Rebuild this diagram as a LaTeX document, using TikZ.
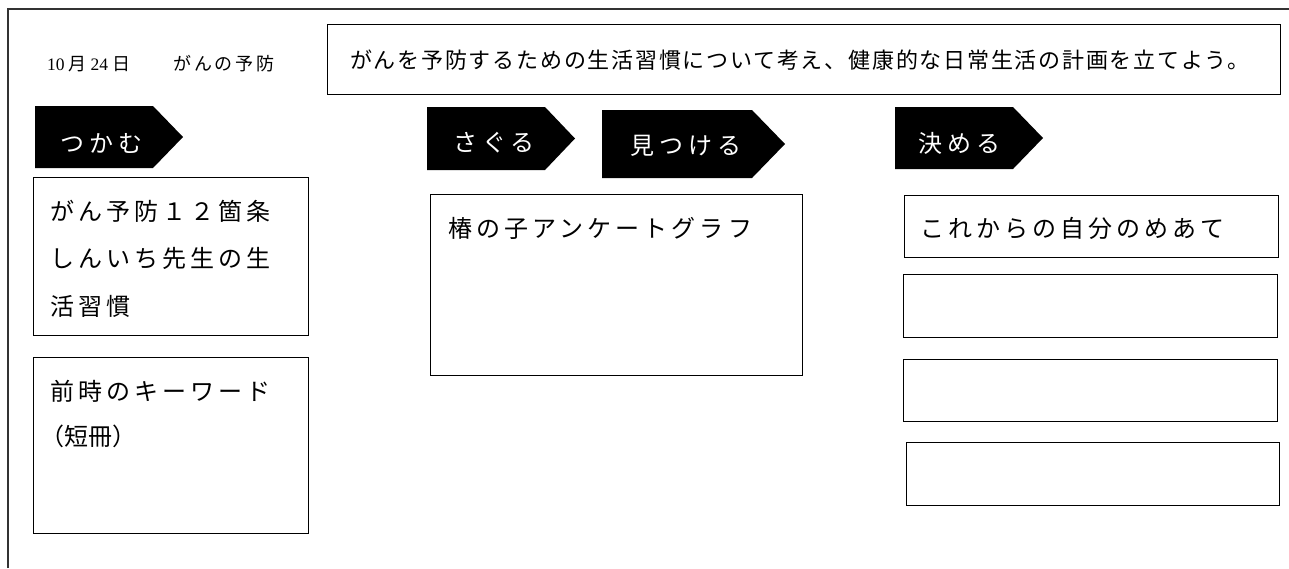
\documentclass[tikz,border=0pt]{standalone}
\usepackage{fontspec}
\setmainfont{Noto Sans CJK JP}
\newfontfamily\jp{Noto Sans CJK JP}
\newfontfamily\lat{Liberation Serif}
\begin{document}
\begin{tikzpicture}[x=1pt,y=-1pt,
  box/.style={draw=black,line width=1.1pt,fill=none},
  frameline/.style={draw=black!80,line width=1.2pt},
  tag/.style={fill=black},
  tagtext/.style={text=white,inner sep=0pt,anchor=west,font=\fontsize{24pt}{28pt}\selectfont\addfontfeature{LetterSpace=21}},
  bodytext/.style={inner sep=0pt,anchor=west,font=\fontsize{24pt}{28pt}\selectfont\addfontfeature{LetterSpace=17}},
]
\useasboundingbox (0,0) rectangle (1289,568);
% frame
\draw[frameline] (8,568) -- (8,9) -- (1289,9);

% date title
\node[inner sep=0pt,anchor=west,font=\fontsize{18pt}{21pt}\selectfont] (date) at (47,64)
  {{\lat\fontsize{17.5pt}{21pt}\selectfont 10}\hspace{4pt}月\hspace{4pt}{\lat\fontsize{17.5pt}{21pt}\selectfont 24}\hspace{4pt}日\hspace{43pt}{\addfontfeature{LetterSpace=16}がんの予防}};

% goal box
\node[box,anchor=north west,minimum width=953pt,minimum height=70pt,inner sep=0pt] (goal) at (327,24) {};
\node[inner sep=0pt,anchor=west,font=\fontsize{22pt}{26pt}\selectfont\addfontfeature{LetterSpace=8}] (goaltext) at (350,60)
  {がんを予防するための生活習慣について考え、健康的な日常生活の計画を立てよう。};

% tags
\fill[tag] (35,106) -- (153,106) -- (183,137) -- (153,168) -- (35,168) -- cycle;
\node[tagtext] (tsukamu) at (60,143) {つかむ};
\fill[tag] (427,107) -- (545,107) -- (575,138.5) -- (545,170) -- (427,170) -- cycle;
\node[tagtext] (saguru) at (453,143) {さぐる};
\fill[tag] (602,110) -- (752,110) -- (785,144) -- (752,178) -- (602,178) -- cycle;
\node[tagtext] (mitsukeru) at (630,146) {見つける};
\fill[tag] (895,107) -- (1013,107) -- (1043,138) -- (1013,169) -- (895,169) -- cycle;
\node[tagtext] (kimeru) at (918,143) {決める};

% left boxes
\node[box,anchor=north west,minimum width=275pt,minimum height=158pt,inner sep=0pt] (lb1) at (33,177) {};
\node[bodytext] (lb1a) at (50,211) {がん予防１２箇条};
\node[bodytext] (lb1b) at (50,258) {しんいち先生の生};
\node[bodytext] (lb1c) at (50,306) {活習慣};

\node[box,anchor=north west,minimum width=275pt,minimum height=176pt,inner sep=0pt] (lb2) at (33,357) {};
\node[bodytext] (lb2a) at (50,391) {前時のキーワード};
\node[bodytext,font=\fontsize{24pt}{28pt}\selectfont] (lb2b) at (40,436) {（短冊）};

% middle box
\node[box,anchor=north west,minimum width=372pt,minimum height=181pt,inner sep=0pt] (mb) at (430,194) {};
\node[bodytext] (mbt) at (448,228) {椿の子アンケートグラフ};

% right boxes
\node[box,anchor=north west,minimum width=374pt,minimum height=62pt,inner sep=0pt] (rb1) at (904,195) {};
\node[bodytext] (rb1t) at (920,228) {これからの自分のめあて};
\node[box,anchor=north west,minimum width=374pt,minimum height=63pt,inner sep=0pt] (rb2) at (903,274) {};
\node[box,anchor=north west,minimum width=374pt,minimum height=62pt,inner sep=0pt] (rb3) at (903,359) {};
\node[box,anchor=north west,minimum width=373pt,minimum height=63pt,inner sep=0pt] (rb4) at (906,442) {};
\end{tikzpicture}
\end{document}
